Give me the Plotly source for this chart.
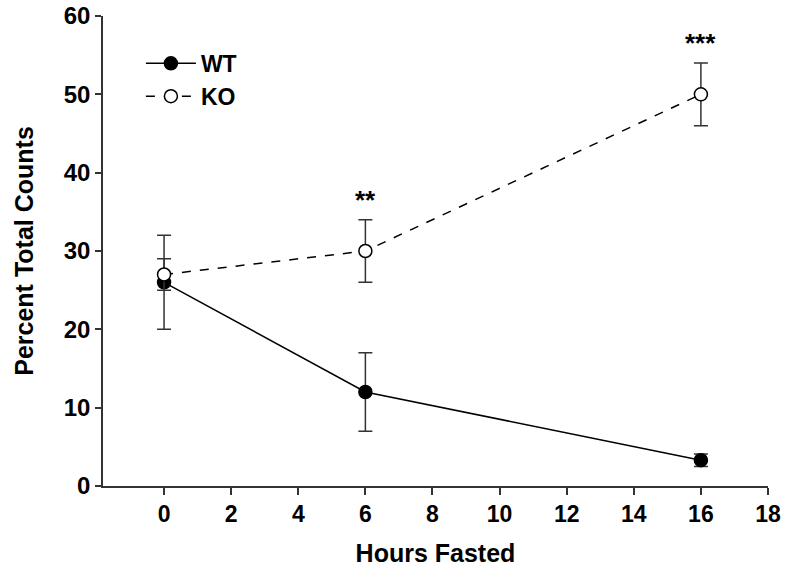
import plotly.graph_objects as go

hours = [0, 6, 16]
wt_mean = [26, 12, 3.3]
wt_err = [6, 5, 0.8]
ko_mean = [27, 30, 50]
ko_err = [2, 4, 4]
sig_x = [6, 16]
sig_y = [36.5, 56.5]
sig_labels = ["<b>**</b>", "<b>***</b>"]
x_ticks = [0, 2, 4, 6, 8, 10, 12, 14, 16, 18]
y_ticks = [0, 10, 20, 30, 40, 50, 60]

font_family = "Liberation Sans, Arial, sans-serif"

fig = go.Figure()
fig.add_trace(go.Scatter(
    x=hours, y=wt_mean, name="WT", mode="lines+markers",
    line=dict(color="black", width=1.5),
    marker=dict(size=13, color="black", line=dict(color="black", width=1.5)),
    error_y=dict(type="data", array=wt_err, color="#333333", thickness=1.5, width=7),
))
fig.add_trace(go.Scatter(
    x=hours, y=ko_mean, name="KO", mode="lines+markers",
    line=dict(color="black", width=1.5, dash="dash"),
    marker=dict(size=13, color="white", line=dict(color="black", width=1.5)),
    error_y=dict(type="data", array=ko_err, color="#333333", thickness=1.5, width=7),
))
for x, y, t in zip(sig_x, sig_y, sig_labels):
    fig.add_annotation(x=x, y=y, text=t, showarrow=False,
                       font=dict(family=font_family, size=26, color="black"))

fig.update_layout(
    width=787, height=570,
    margin=dict(l=103, r=19, t=16, b=84),
    paper_bgcolor="white", plot_bgcolor="white",
    font=dict(family=font_family, color="black"),
    showlegend=True,
    legend=dict(x=0.057, y=0.945, xanchor="left", yanchor="top",
                bgcolor="rgba(0,0,0,0)",
                font=dict(family=font_family, size=23, color="black", weight="bold"),
                itemwidth=50, tracegroupgap=0),
)
fig.update_xaxes(
    range=[-1.82, 18], tickvals=x_ticks, ticks="outside", ticklen=7, tickwidth=1.5,
    tickcolor="#333333", showline=True, linecolor="#333333", linewidth=1.5,
    showgrid=False, zeroline=False, automargin=False,
    tickfont=dict(family=font_family, size=23, weight="bold"),
    title=dict(text="<b>Hours Fasted</b>", font=dict(family=font_family, size=25), standoff=18),
)
fig.update_yaxes(
    range=[0, 60], tickvals=y_ticks, ticks="outside", ticklen=6, tickwidth=1.5,
    tickcolor="#333333", showline=True, linecolor="#333333", linewidth=1.5,
    showgrid=False, zeroline=False, automargin=False,
    tickfont=dict(family=font_family, size=24, weight="bold"),
    title=dict(text="<b>Percent Total Counts</b>", font=dict(family=font_family, size=25), standoff=23),
)
fig.write_html("out.html", config={"displayModeBar": False},
               post_script="document.body.style.margin='0';")
